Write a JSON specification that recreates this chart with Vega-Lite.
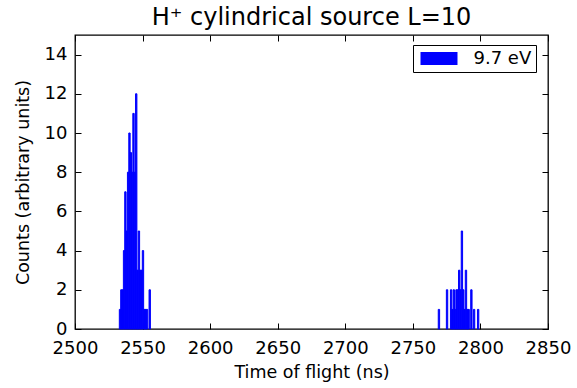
{
  "$schema": "https://vega.github.io/schema/vega-lite/v6.json",
  "width": 473,
  "height": 294,
  "autosize": {"type": "none"},
  "padding": {"left": 75, "top": 35, "right": 29, "bottom": 59},
  "background": "white",
  "title": {"text": "H⁺ cylindrical source L=10", "font": "DejaVu Sans", "fontSize": 24, "fontWeight": "normal", "color": "black", "offset": 5, "anchor": "middle"},
  "config": {
    "view": {"stroke": "black", "strokeWidth": 1.3},
    "axis": {
      "labelFont": "DejaVu Sans", "labelFontSize": 18, "labelColor": "black",
      "titleFont": "DejaVu Sans", "titleFontSize": 17.5, "titleFontWeight": "normal", "titleColor": "black",
      "tickColor": "black", "tickSize": -6, "tickWidth": 1, "domain": false, "grid": false
    }
  },
  "data": {"values": [
    {"t0": 2532.8, "t1": 2533.8, "count": 1, "series": "9.7 eV"},
    {"t0": 2533.8, "t1": 2534.8, "count": 2, "series": "9.7 eV"},
    {"t0": 2534.8, "t1": 2535.8, "count": 2, "series": "9.7 eV"},
    {"t0": 2535.8, "t1": 2536.8, "count": 4, "series": "9.7 eV"},
    {"t0": 2536.8, "t1": 2537.8, "count": 7, "series": "9.7 eV"},
    {"t0": 2537.8, "t1": 2538.8, "count": 5, "series": "9.7 eV"},
    {"t0": 2538.8, "t1": 2539.8, "count": 8, "series": "9.7 eV"},
    {"t0": 2539.8, "t1": 2540.8, "count": 10, "series": "9.7 eV"},
    {"t0": 2540.8, "t1": 2541.8, "count": 9, "series": "9.7 eV"},
    {"t0": 2541.8, "t1": 2542.8, "count": 8, "series": "9.7 eV"},
    {"t0": 2542.8, "t1": 2543.8, "count": 11, "series": "9.7 eV"},
    {"t0": 2543.8, "t1": 2544.8, "count": 8, "series": "9.7 eV"},
    {"t0": 2544.8, "t1": 2545.8, "count": 12, "series": "9.7 eV"},
    {"t0": 2545.8, "t1": 2546.8, "count": 3, "series": "9.7 eV"},
    {"t0": 2546.8, "t1": 2547.8, "count": 5, "series": "9.7 eV"},
    {"t0": 2547.8, "t1": 2548.8, "count": 3, "series": "9.7 eV"},
    {"t0": 2548.8, "t1": 2549.8, "count": 3, "series": "9.7 eV"},
    {"t0": 2549.8, "t1": 2550.8, "count": 4, "series": "9.7 eV"},
    {"t0": 2550.8, "t1": 2551.8, "count": 1, "series": "9.7 eV"},
    {"t0": 2551.8, "t1": 2552.8, "count": 1, "series": "9.7 eV"},
    {"t0": 2552.8, "t1": 2553.8, "count": 1, "series": "9.7 eV"},
    {"t0": 2554.8, "t1": 2555.8, "count": 2, "series": "9.7 eV"},
    {"t0": 2768.8, "t1": 2769.8, "count": 1, "series": "9.7 eV"},
    {"t0": 2774.8, "t1": 2775.8, "count": 2, "series": "9.7 eV"},
    {"t0": 2777.8, "t1": 2778.8, "count": 2, "series": "9.7 eV"},
    {"t0": 2778.8, "t1": 2779.8, "count": 1, "series": "9.7 eV"},
    {"t0": 2779.8, "t1": 2780.8, "count": 2, "series": "9.7 eV"},
    {"t0": 2780.8, "t1": 2781.8, "count": 1, "series": "9.7 eV"},
    {"t0": 2781.8, "t1": 2782.8, "count": 2, "series": "9.7 eV"},
    {"t0": 2782.8, "t1": 2783.8, "count": 2, "series": "9.7 eV"},
    {"t0": 2783.8, "t1": 2784.8, "count": 3, "series": "9.7 eV"},
    {"t0": 2784.8, "t1": 2785.8, "count": 2, "series": "9.7 eV"},
    {"t0": 2785.8, "t1": 2786.8, "count": 5, "series": "9.7 eV"},
    {"t0": 2786.8, "t1": 2787.8, "count": 2, "series": "9.7 eV"},
    {"t0": 2787.8, "t1": 2788.8, "count": 1, "series": "9.7 eV"},
    {"t0": 2788.8, "t1": 2789.8, "count": 3, "series": "9.7 eV"},
    {"t0": 2789.8, "t1": 2790.8, "count": 1, "series": "9.7 eV"},
    {"t0": 2790.8, "t1": 2791.8, "count": 1, "series": "9.7 eV"},
    {"t0": 2792.8, "t1": 2793.8, "count": 2, "series": "9.7 eV"},
    {"t0": 2794.8, "t1": 2795.8, "count": 1, "series": "9.7 eV"},
    {"t0": 2797.8, "t1": 2798.8, "count": 1, "series": "9.7 eV"}
  ]},
  "layer": [
    {
      "mark": {"type": "rect", "color": "#0000ff", "opacity": 1, "stroke": "#0000ff", "strokeWidth": 1},
      "encoding": {
        "x": {"field": "t0", "type": "quantitative",
              "scale": {"domain": [2500, 2850], "nice": false, "zero": false},
              "axis": {"orient": "bottom", "values": [2500, 2550, 2600, 2650, 2700, 2750, 2800, 2850], "format": "d", "labelPadding": 16, "labelFlush": false, "title": "Time of flight (ns)", "titlePadding": 6}},
        "x2": {"field": "t1"},
        "y": {"field": "count", "type": "quantitative",
              "scale": {"domain": [0, 15], "nice": false, "zero": true},
              "axis": {"orient": "left", "values": [0, 2, 4, 6, 8, 10, 12, 14], "format": "d", "labelPadding": 14, "title": "Counts (arbitrary units)", "titlePadding": 12}},
        "y2": {"datum": 0},
        "color": {"field": "series", "type": "nominal",
                  "scale": {"range": ["#0000ff"]},
                  "legend": {"orient": "none", "legendX": 338, "legendY": 10, "title": null,
                             "symbolType": "M-2,-0.7L2,-0.7L2,0.7L-2,0.7Z", "symbolSize": 342,
                             "symbolStrokeWidth": 0, "symbolOpacity": 1, "symbolOffset": 12.5,
                             "strokeColor": "black", "fillColor": "white", "padding": 4, "cornerRadius": 0,
                             "labelFont": "DejaVu Sans", "labelFontSize": 18, "labelColor": "black", "labelOffset": 25}}
      }
    },
    {
      "mark": {"type": "rect", "opacity": 0},
      "encoding": {
        "x": {"field": "t0", "type": "quantitative",
              "axis": {"orient": "top", "values": [2500, 2550, 2600, 2650, 2700, 2750, 2800, 2850], "labels": false, "title": null}},
        "x2": {"field": "t1"},
        "y": {"field": "count", "type": "quantitative",
              "axis": {"orient": "right", "values": [0, 2, 4, 6, 8, 10, 12, 14], "labels": false, "title": null}},
        "y2": {"datum": 0}
      }
    }
  ],
  "resolve": {"axis": {"x": "independent", "y": "independent"}}
}
